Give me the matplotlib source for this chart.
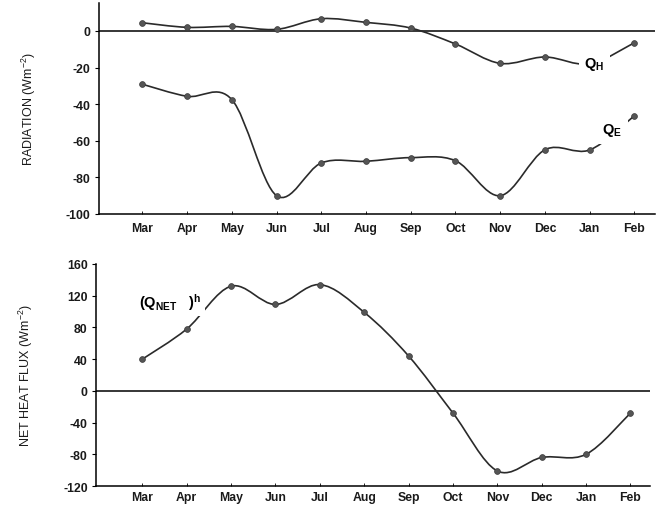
import numpy as np
import matplotlib.pyplot as plt
from matplotlib.path import Path
from matplotlib.patches import PathPatch

plt.rcParams['font.family'] = ['Liberation Sans', 'DejaVu Sans']
plt.rcParams['mathtext.fontset'] = 'custom'
plt.rcParams['mathtext.rm'] = 'Liberation Sans'
plt.rcParams['mathtext.it'] = 'Liberation Sans'
plt.rcParams['mathtext.bf'] = 'Liberation Sans:bold'
plt.rcParams['axes.unicode_minus'] = False

# Datos
meses = ['Mar', 'Apr', 'May', 'Jun', 'Jul', 'Aug', 'Sep', 'Oct', 'Nov', 'Dec', 'Jan', 'Feb']
q_h = [4.5, 2.0, 2.5, 0.9, 6.7, 4.7, 1.6, -7.1, -17.7, -14.2, -18.0, -6.4]
q_e = [-29.1, -35.7, -37.5, -90.0, -72.1, -71.2, -69.2, -70.9, -90.0, -64.9, -65.0, -46.3]
q_net = [40, 78, 132, 109, 134, 99, 44, -28, -101, -84, -80, -28]

x = np.arange(1, len(meses) + 1)

LINEA = '#2a2a2a'
PUNTO = '#555555'
TEXTO = '#1a1a1a'


def curva(ax, xs, ys):
    # curva suave (Catmull-Rom como Bezier cubica) por los puntos
    p = np.column_stack([xs, ys]).astype(float)
    ext = np.vstack([p[0], p, p[-1]])
    verts = [tuple(p[0])]
    codes = [Path.MOVETO]
    for i in range(len(p) - 1):
        p0, p1, p2, p3 = ext[i], ext[i + 1], ext[i + 2], ext[i + 3]
        c1 = p1 + (p2 - p0) / 6
        c2 = p2 - (p3 - p1) / 6
        verts += [tuple(c1), tuple(c2), tuple(p2)]
        codes += [Path.CURVE4] * 3
    ax.add_patch(PathPatch(Path(verts, codes), fill=False, edgecolor=LINEA, lw=1.2, zorder=2))
    ax.plot(xs, ys, 'o', ms=4.2, color=PUNTO, mec='#3a3a3a', mew=0.5, zorder=3)


def estilo(ax, pad_x):
    for s in ['top', 'right']:
        ax.spines[s].set_visible(False)
    ax.spines['left'].set_linewidth(1.1)
    ax.spines['bottom'].set_linewidth(1.1)
    ax.axhline(0, color='black', lw=1.1, zorder=1)
    ax.set_xticks(x)
    ax.set_xticklabels(meses, fontsize=8.8, fontweight='bold', color=TEXTO)
    ax.tick_params(axis='x', direction='in', length=2, width=0.6, pad=pad_x)
    ax.tick_params(axis='y', direction='out', length=3, width=0.8, pad=3)
    for lab in ax.get_yticklabels():
        lab.set_fontweight('bold')
        lab.set_fontsize(8.8)
        lab.set_color(TEXTO)


fig = plt.figure(figsize=(6.64, 5.06), dpi=100)
ax1 = fig.add_axes([0.1491, 0.5751, 0.8373, 0.4170])
ax2 = fig.add_axes([0.1446, 0.0375, 0.8343, 0.4388])

# Panel superior: Q_H y Q_E
curva(ax1, x, q_h)
curva(ax1, x, q_e)
ax1.set_xlim(0.03, 12.46)
ax1.set_ylim(-100, 15.3)
ax1.set_yticks([0, -20, -40, -60, -80, -100])
estilo(ax1, 6)
ax1.set_ylabel('RADIATION (Wm$^{-2}$)', fontsize=9, labelpad=20, color=TEXTO)
ax1.text(11.1, -17.5, r'$\mathbf{Q}_{\mathbf{H}}$', fontsize=10.5, ha='center', va='center',
         zorder=4, bbox=dict(facecolor='white', edgecolor='none', pad=4))
ax1.text(11.5, -54, r'$\mathbf{Q}_{\mathbf{E}}$', fontsize=10.5, ha='center', va='center',
         zorder=4, bbox=dict(facecolor='white', edgecolor='none', pad=4))

# Panel inferior: flujo neto de calor
curva(ax2, x, q_net)
ax2.set_xlim(-0.044, 12.44)
ax2.set_ylim(-120, 160)
ax2.set_yticks([160, 120, 80, 40, 0, -40, -80, -120])
estilo(ax2, 3.5)
ax2.set_ylabel('NET HEAT FLUX (Wm$^{-2}$)', fontsize=9, labelpad=20, color=TEXTO)
ax2.text(1.62, 113, r'$\mathbf{(Q_{NET}\ \ \ )^{h}}$', fontsize=10.5, ha='center', va='center',
         zorder=4, bbox=dict(facecolor='white', edgecolor='none', pad=3))

fig.savefig('out.png', dpi=100, facecolor='white')
